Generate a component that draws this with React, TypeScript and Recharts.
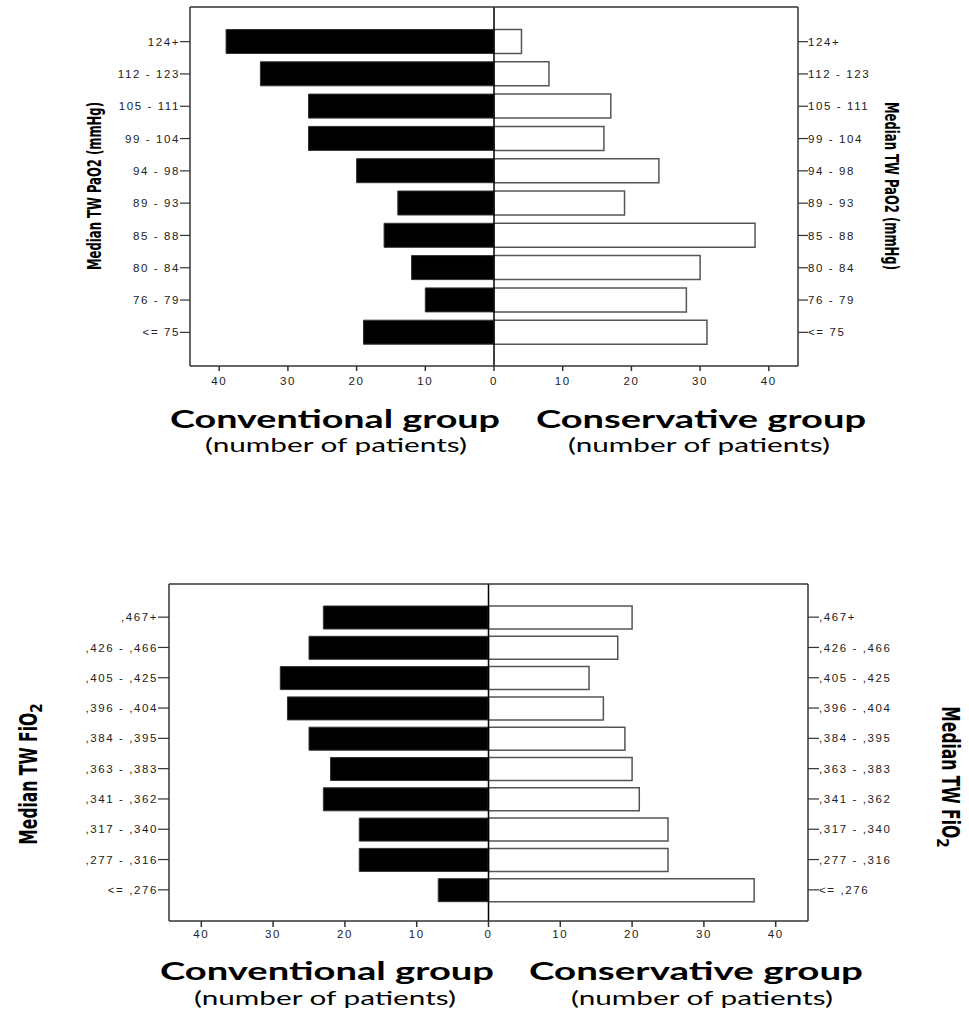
import React from 'react';
import { BarChart, Bar, XAxis, YAxis, ReferenceLine } from 'recharts';

const paoCategories = ['124+', '112 - 123', '105 - 111', '99 - 104', '94 - 98', '89 - 93', '85 - 88', '80 - 84', '76 - 79', '<= 75'];
const paoConventional = [39, 34, 27, 27, 20, 14, 16, 12, 10, 19];
const paoConservative = [4, 8, 17, 16, 24, 19, 38, 30, 28, 31];

const fioCategories = [',467+', ',426 - ,466', ',405 - ,425', ',396 - ,404', ',384 - ,395', ',363 - ,383', ',341 - ,362', ',317 - ,340', ',277 - ,316', '<= ,276'];
const fioConventional = [23, 25, 29, 28, 25, 22, 23, 18, 18, 7];
const fioConservative = [20, 18, 14, 16, 19, 20, 21, 25, 25, 37];

const xTicks = [-40, -30, -20, -10, 0, 10, 20, 30, 40];

const leftTitle = 'Conventional group';
const rightTitle = 'Conservative group';
const subTitle = '(number of patients)';

const TICK_FONT = "'Liberation Sans', Arial, sans-serif";
const NARROW_FONT = "'Liberation Sans Narrow', 'DejaVu Sans Condensed', 'Arial Narrow', sans-serif";
const CAL_FONT = "Lato, 'Open Sans', sans-serif";

function buildRows(cats: string[], conv: number[], cons: number[]) {
  return cats.map((c, i) => ({ cat: c, conv: -conv[i], cons: cons[i] }));
}

const tickText = { fontSize: 11.5, fill: '#222', fontFamily: TICK_FONT, letterSpacing: 1.6 } as const;

const LeftTick = (p: any) => (
  <text x={p.x} y={p.y} dy="0.355em" textAnchor="end" {...tickText}>{p.payload.value}</text>
);
const RightTick = (p: any) => (
  <text x={p.x} y={p.y} dy="0.355em" textAnchor="start" {...tickText}>{p.payload.value}</text>
);
const BottomTick = (p: any) => (
  <text x={p.x} y={p.y} dy="0.71em" textAnchor="middle" {...tickText}>{String(Math.abs(p.payload.value))}</text>
);

type PyrProps = {
  rows: any[];
  top: number;
  height: number;
  marginTop: number;
  leftW: number;
  rightW: number;
  dom: number;
  padTop: number;
  padBottom: number;
  barSize: number;
  xTickSize: number;
  xTickMargin: number;
  yTickSize: number;
};

function Pyramid(p: PyrProps) {
  const frame = '#333';
  return (
    <div style={{ position: 'absolute', left: 0, top: p.top }}>
      <BarChart
        width={969}
        height={p.height}
        data={p.rows}
        layout="vertical"
        stackOffset="sign"
        margin={{ top: p.marginTop - 2, right: 0, bottom: 4, left: 0 }}
      >
        <XAxis
          type="number"
          domain={[-p.dom, p.dom]}
          ticks={xTicks}
          allowDataOverflow
          height={30}
          tickSize={p.xTickSize}
          tickMargin={p.xTickMargin}
          axisLine={{ stroke: frame, strokeWidth: 1.5 }}
          tickLine={{ stroke: frame, strokeWidth: 1.5 }}
          tick={<BottomTick />}
          interval={0}
        />
        <XAxis
          xAxisId="top"
          orientation="top"
          type="number"
          domain={[-p.dom, p.dom]}
          allowDataOverflow
          ticks={xTicks}
          height={2}
          tick={false}
          tickLine={false}
          axisLine={{ stroke: frame, strokeWidth: 1.5 }}
        />
        <YAxis
          yAxisId="left"
          type="category"
          dataKey="cat"
          width={p.leftW}
          padding={{ top: p.padTop, bottom: p.padBottom }}
          tickSize={p.yTickSize}
          tickMargin={0}
          interval={0}
          axisLine={{ stroke: frame, strokeWidth: 1.5 }}
          tickLine={{ stroke: frame, strokeWidth: 1.2 }}
          tick={<LeftTick />}
        />
        <YAxis
          yAxisId="right"
          orientation="right"
          type="category"
          dataKey="cat"
          width={p.rightW}
          padding={{ top: p.padTop, bottom: p.padBottom }}
          tickSize={p.yTickSize}
          tickMargin={0}
          interval={0}
          axisLine={{ stroke: frame, strokeWidth: 1.5 }}
          tickLine={{ stroke: frame, strokeWidth: 1.2 }}
          tick={<RightTick />}
        />
        <Bar dataKey="conv" yAxisId="left" stackId="s" fill="#000" stroke="#333" strokeWidth={1} barSize={p.barSize} isAnimationActive={false} />
        <Bar dataKey="cons" yAxisId="left" stackId="s" fill="#fff" stroke="#555" strokeWidth={1.5} barSize={p.barSize} isAnimationActive={false} />
        <ReferenceLine x={0} yAxisId="left" stroke="#000" strokeWidth={1.5} ifOverflow="extendDomain" />
      </BarChart>
    </div>
  );
}

function Titles() {
  return (
    <svg width={969} height={1015} style={{ position: 'absolute', left: 0, top: 0, pointerEvents: 'none' }}>
      <text transform="translate(101,186) rotate(-90)" textAnchor="middle" fontFamily={NARROW_FONT} fontWeight="bold" fontSize={19} fill="#000" textLength={168} lengthAdjust="spacingAndGlyphs">Median TW PaO2 (mmHg)</text>
      <text transform="translate(885,186) rotate(90)" textAnchor="middle" fontFamily={NARROW_FONT} fontWeight="bold" fontSize={19} fill="#000" textLength={168} lengthAdjust="spacingAndGlyphs">Median TW PaO2 (mmHg)</text>
      <text transform="translate(37,774) rotate(-90)" textAnchor="middle" fontFamily={NARROW_FONT} fontWeight="bold" fontSize={24} fill="#000">
        <tspan textLength={132} lengthAdjust="spacingAndGlyphs">Median TW FiO</tspan>
        <tspan fontSize={15} dy={5}>2</tspan>
      </text>
      <text transform="translate(942,777) rotate(90)" textAnchor="middle" fontFamily={NARROW_FONT} fontWeight="bold" fontSize={24} fill="#000">
        <tspan textLength={132} lengthAdjust="spacingAndGlyphs">Median TW FiO</tspan>
        <tspan fontSize={15} dy={5}>2</tspan>
      </text>
      <text x={335} y={428} textAnchor="middle" fontFamily={CAL_FONT} fontWeight="bold" fontSize={25} fill="#000" textLength={330} lengthAdjust="spacingAndGlyphs">{leftTitle}</text>
      <text x={336} y={452} textAnchor="middle" fontFamily={CAL_FONT} fontSize={20} fill="#000" textLength={262} lengthAdjust="spacingAndGlyphs">{subTitle}</text>
      <text x={701} y={428} textAnchor="middle" fontFamily={CAL_FONT} fontWeight="bold" fontSize={25} fill="#000" textLength={330} lengthAdjust="spacingAndGlyphs">{rightTitle}</text>
      <text x={699} y={452} textAnchor="middle" fontFamily={CAL_FONT} fontSize={20} fill="#000" textLength={262} lengthAdjust="spacingAndGlyphs">{subTitle}</text>
      <text x={327} y={980} textAnchor="middle" fontFamily={CAL_FONT} fontWeight="bold" fontSize={25} fill="#000" textLength={334} lengthAdjust="spacingAndGlyphs">{leftTitle}</text>
      <text x={325} y={1005} textAnchor="middle" fontFamily={CAL_FONT} fontSize={20} fill="#000" textLength={262} lengthAdjust="spacingAndGlyphs">{subTitle}</text>
      <text x={696} y={980} textAnchor="middle" fontFamily={CAL_FONT} fontWeight="bold" fontSize={25} fill="#000" textLength={334} lengthAdjust="spacingAndGlyphs">{rightTitle}</text>
      <text x={702} y={1005} textAnchor="middle" fontFamily={CAL_FONT} fontSize={20} fill="#000" textLength={262} lengthAdjust="spacingAndGlyphs">{subTitle}</text>
    </svg>
  );
}

export default function App() {
  const paoRows = buildRows(paoCategories, paoConventional, paoConservative);
  const fioRows = buildRows(fioCategories, fioConventional, fioConservative);
  return (
    <div style={{ position: 'absolute', left: 0, top: 0, width: 969, height: 1015, background: '#fff' }}>
      <Pyramid rows={paoRows} top={0} height={400} marginTop={7} leftW={190} rightW={171} dom={44.25}
        padTop={18.5} padBottom={17.5} barSize={24} xTickSize={5} xTickMargin={6} yTickSize={10} />
      <Pyramid rows={fioRows} top={560} height={395} marginTop={24} leftW={169} rightW={161} dom={44.5}
        padTop={18} padBottom={16} barSize={23} xTickSize={6} xTickMargin={2.5} yTickSize={11} />
      <Titles />
    </div>
  );
}
